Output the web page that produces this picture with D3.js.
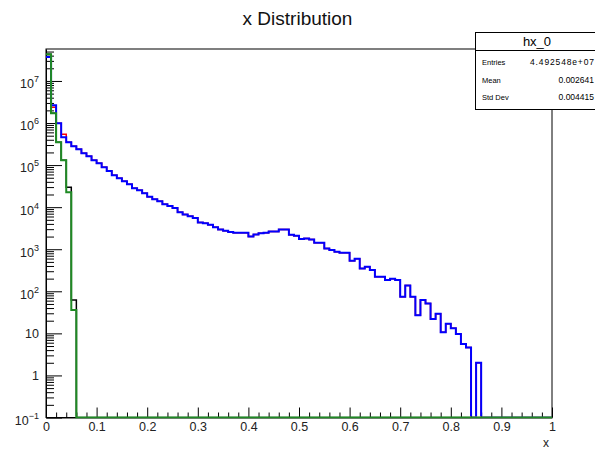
<!DOCTYPE html>
<html>
<head>
<meta charset="utf-8">
<script src="https://cdn.jsdelivr.net/npm/d3@7/dist/d3.min.js"></script>
<style>
  body { margin: 0; background: #fff; }
  svg { display: block; font-family: "Liberation Sans", Arial, Helvetica, sans-serif; }
</style>
</head>
<body>
<svg id="chart" width="595" height="452"></svg>
<script>
// Histogram binning: 100 equal bins on [0, 1]
const nBins = 100;
const xRange = [0, 1];
const yRange = [0.1, 5.75e7];

// Bin contents of the four histograms (drawn black, red, blue, green)
const hx0 = [
  4.3e7, 1.71e6, 3.5e5, 1.31e5, 2.99e4, 61.8, 0, 0, 0, 0,
  0, 0, 0, 0, 0, 0, 0, 0, 0, 0,
  0, 0, 0, 0, 0, 0, 0, 0, 0, 0,
  0, 0, 0, 0, 0, 0, 0, 0, 0, 0,
  0, 0, 0, 0, 0, 0, 0, 0, 0, 0,
  0, 0, 0, 0, 0, 0, 0, 0, 0, 0,
  0, 0, 0, 0, 0, 0, 0, 0, 0, 0,
  0, 0, 0, 0, 0, 0, 0, 0, 0, 0,
  0, 0, 0, 0, 0, 0, 0, 0, 0, 0,
  0, 0, 0, 0, 0, 0, 0, 0, 0, 0
];
const hx1 = [
  3.7e7, 2.37e6, 9.9e5, 5.42e5, 3.5e5, 2.81e5, 2.39e5, 1.92e5, 1.63e5, 1.31e5,
  1.11e5, 8.9e4, 7.2e4, 5.75e4, 4.89e4, 4.15e4, 3.52e4, 2.83e4, 2.54e4, 2.15e4,
  1.78e4, 1.55e4, 1.39e4, 1.18e4, 1.06e4, 9.5e3, 7.6e3, 6.7e3, 6.1e3, 5.5e3,
  4.3e3, 4.17e3, 3.84e3, 3.35e3, 2.95e3, 2.75e3, 2.57e3, 2.45e3, 2.45e3, 2.45e3,
  2.02e3, 2.25e3, 2.4e3, 2.45e3, 2.65e3, 2.65e3, 2.95e3, 2.95e3, 2.22e3, 2.08e3,
  1.74e3, 1.81e3, 1.71e3, 1.42e3, 1.42e3, 1.04e3, 953, 867, 821, 821,
  530, 592, 350, 382, 319, 221, 221, 185, 198, 185,
  74, 138, 74, 26.8, 61.8, 51.6, 21.9, 29.2, 10.7, 16.9,
  13.2, 9.6, 5.6, 4.6, 0, 2, 0, 0, 0, 0,
  0, 0, 0, 0, 0, 0, 0, 0, 0, 0
];
const hx2 = [
  4.3e7, 1.71e6, 3.5e5, 1.31e5, 2.27e4, 35.7, 0, 0, 0, 0,
  0, 0, 0, 0, 0, 0, 0, 0, 0, 0,
  0, 0, 0, 0, 0, 0, 0, 0, 0, 0,
  0, 0, 0, 0, 0, 0, 0, 0, 0, 0,
  0, 0, 0, 0, 0, 0, 0, 0, 0, 0,
  0, 0, 0, 0, 0, 0, 0, 0, 0, 0,
  0, 0, 0, 0, 0, 0, 0, 0, 0, 0,
  0, 0, 0, 0, 0, 0, 0, 0, 0, 0,
  0, 0, 0, 0, 0, 0, 0, 0, 0, 0,
  0, 0, 0, 0, 0, 0, 0, 0, 0, 0
];
const hx3 = [
  3.7e7, 2.65e6, 9.9e5, 4.6e5, 3.5e5, 2.81e5, 2.39e5, 1.92e5, 1.63e5, 1.31e5,
  1.11e5, 8.9e4, 7.2e4, 5.75e4, 4.89e4, 4.15e4, 3.52e4, 2.83e4, 2.54e4, 2.15e4,
  1.78e4, 1.55e4, 1.39e4, 1.18e4, 1.06e4, 9.5e3, 7.6e3, 6.7e3, 6.1e3, 5.5e3,
  4.3e3, 4.17e3, 3.84e3, 3.35e3, 2.95e3, 2.75e3, 2.57e3, 2.45e3, 2.45e3, 2.45e3,
  2.02e3, 2.25e3, 2.4e3, 2.45e3, 2.65e3, 2.65e3, 2.95e3, 2.95e3, 2.22e3, 2.08e3,
  1.74e3, 1.81e3, 1.71e3, 1.42e3, 1.42e3, 1.04e3, 953, 867, 821, 821,
  530, 592, 350, 382, 319, 221, 221, 185, 198, 185,
  74, 138, 74, 26.8, 61.8, 51.6, 21.9, 29.2, 10.7, 16.9,
  13.2, 9.6, 5.6, 4.6, 0, 2, 0, 0, 0, 0,
  0, 0, 0, 0, 0, 0, 0, 0, 0, 0
];

// Axis tick labels
const xTickValues = [0, 0.1, 0.2, 0.3, 0.4, 0.5, 0.6, 0.7, 0.8, 0.9, 1];
const xTickLabels = ["0", "0.1", "0.2", "0.3", "0.4", "0.5", "0.6", "0.7", "0.8", "0.9", "1"];
const yTickValues = [0.1, 1, 10, 1e2, 1e3, 1e4, 1e5, 1e6, 1e7];
const yTickBase = ["10", "1", "10", "10", "10", "10", "10", "10", "10"];
const yTickExp = ["\u22121", "", "", "2", "3", "4", "5", "6", "7"];

// Statistics box
const statsName = "hx_0";
const statsLabels = ["Entries", "Mean", "Std Dev"];
const statsValues = ["4.492548e+07", "0.002641", "0.004415"];

const title = "x Distribution";
const xTitle = "x";

// Drawing order: black, red, blue, then green on top
const series = [
  { data: hx0, color: "#000000", width: 1.5, onTop: false },
  { data: hx1, color: "#ff0000", width: 1.5, onTop: false },
  { data: hx3, color: "#0000ff", width: 2, onTop: false },
  { data: hx2, color: "#1f8a24", width: 2, onTop: true }
];

const frame = { left: 46, right: 552, top: 49, bottom: 417.5 };

const svg = d3.select("#chart");

const x = d3.scaleLinear().domain(xRange).range([frame.left, frame.right]);
const y = d3.scaleLog().domain(yRange).range([frame.bottom, frame.top]).clamp(true);

// Title
svg.append("text")
  .attr("x", 297.5).attr("y", 24.5)
  .attr("text-anchor", "middle")
  .attr("font-size", 19)
  .attr("fill", "#111")
  .text(title);

// Frame
svg.append("rect")
  .attr("x", frame.left).attr("y", frame.top)
  .attr("width", frame.right - frame.left).attr("height", frame.bottom - frame.top)
  .attr("fill", "none").attr("stroke", "#000").attr("stroke-width", 1);

// X axis: major and minor ticks pointing inward
const xMinor = d3.range(0, 51).map(i => i / 50).filter(v => Math.round(v * 50) % 5 !== 0);
const xAxisMajor = d3.axisBottom(x).tickValues(xTickValues)
  .tickFormat((d, i) => xTickLabels[i]).tickSizeInner(-10).tickSizeOuter(0).tickPadding(5);
const xAxisMinor = d3.axisBottom(x).tickValues(xMinor).tickFormat("").tickSizeInner(-5).tickSizeOuter(0);

const gx = svg.append("g").attr("transform", `translate(0,${frame.bottom})`);
gx.call(xAxisMajor);
svg.append("g").attr("transform", `translate(0,${frame.bottom})`).call(xAxisMinor)
  .select(".domain").remove();
gx.selectAll("text").attr("font-size", 12.5).attr("font-family", "Liberation Sans, Arial, sans-serif").attr("fill", "#222");

// Y axis: decades with minor ticks at 2..9
const yMinor = [];
for (let e = -1; e <= 7; e++) {
  for (let m = 2; m <= 9; m++) {
    const v = m * Math.pow(10, e);
    if (v <= yRange[1]) yMinor.push(v);
  }
}
const yAxisMajor = d3.axisLeft(y).tickValues(yTickValues).tickFormat("")
  .tickSizeInner(-16).tickSizeOuter(0).tickPadding(7);
const yAxisMinor = d3.axisLeft(y).tickValues(yMinor).tickFormat("").tickSizeInner(-8).tickSizeOuter(0);

const gy = svg.append("g").attr("transform", `translate(${frame.left},0)`);
gy.call(yAxisMajor);
svg.append("g").attr("transform", `translate(${frame.left},0)`).call(yAxisMinor)
  .select(".domain").remove();

gy.selectAll(".tick text").each(function (d, i) {
  const t = d3.select(this)
    .attr("font-size", 12.5)
    .attr("font-family", "Liberation Sans, Arial, sans-serif")
    .attr("fill", "#222");
  t.text(null);
  const hasExp = yTickExp[i] !== "";
  t.attr("dy", hasExp ? "0.55em" : "0.32em");
  t.append("tspan").text(yTickBase[i]);
  if (hasExp) {
    t.append("tspan").attr("dy", -6).attr("font-size", 9).text(yTickExp[i]);
  }
});

svg.selectAll(".tick line").attr("stroke", "#000").attr("stroke-width", 1);
svg.selectAll(".domain").attr("stroke", "#000").attr("stroke-width", 1);

// X axis title
svg.append("text")
  .attr("x", frame.right - 3).attr("y", 447)
  .attr("text-anchor", "end")
  .attr("font-size", 12)
  .attr("fill", "#222")
  .text(xTitle);

// Histogram outlines (step lines)
const binWidth = (xRange[1] - xRange[0]) / nBins;
const stepLine = d3.line()
  .x(d => x(d[0]))
  .y(d => y(Math.max(d[1], yRange[0])))
  .curve(d3.curveStepAfter);

// The top-most histogram keeps its empty-bin baseline along the axis;
// the others are clipped just above it so the baseline stays one colour.
const defs = svg.append("defs");
defs.append("clipPath").attr("id", "clipTop").append("rect")
  .attr("x", frame.left).attr("y", frame.top - 1)
  .attr("width", frame.right - frame.left).attr("height", frame.bottom - frame.top + 2);
defs.append("clipPath").attr("id", "clipUnder").append("rect")
  .attr("x", frame.left).attr("y", frame.top - 1)
  .attr("width", frame.right - frame.left).attr("height", frame.bottom - frame.top);

const gh = svg.append("g");
series.forEach(s => {
  const pts = s.data.map((v, i) => [xRange[0] + i * binWidth, v]);
  pts.push([xRange[1], s.data[nBins - 1]]);
  gh.append("path")
    .attr("clip-path", s.onTop ? "url(#clipTop)" : "url(#clipUnder)")
    .attr("d", stepLine(pts))
    .attr("fill", "none")
    .attr("stroke", s.color)
    .attr("stroke-width", s.width)
    .attr("stroke-linejoin", "miter");
});

// Statistics box (runs off the right edge of the canvas)
const box = { x: 475, y: 32, w: 125, h: 77, head: 18 };
const gs = svg.append("g");
gs.append("rect")
  .attr("x", box.x + 0.5).attr("y", box.y + 0.5)
  .attr("width", box.w).attr("height", box.h)
  .attr("fill", "#fff").attr("stroke", "#000").attr("stroke-width", 1);
gs.append("line")
  .attr("x1", box.x + 0.5).attr("x2", box.x + box.w)
  .attr("y1", box.y + box.head + 0.5).attr("y2", box.y + box.head + 0.5)
  .attr("stroke", "#000").attr("stroke-width", 1);
gs.append("text")
  .attr("x", 537).attr("y", box.y + 14)
  .attr("text-anchor", "middle").attr("font-size", 13)
  .text(statsName);
const rowY = d3.scaleLinear().domain([0, statsLabels.length - 1]).range([box.y + 33, box.y + 68]);
statsLabels.forEach((lab, i) => {
  gs.append("text")
    .attr("x", box.x + 7).attr("y", rowY(i))
    .attr("font-size", 7.5)
    .text(lab);
  const v = gs.append("text")
    .attr("x", 594).attr("y", rowY(i))
    .attr("text-anchor", "end").attr("font-size", 8.5)
    .text(statsValues[i]);
  if (i === 0) v.attr("textLength", 64).attr("lengthAdjust", "spacing");
});
</script>
</body>
</html>
